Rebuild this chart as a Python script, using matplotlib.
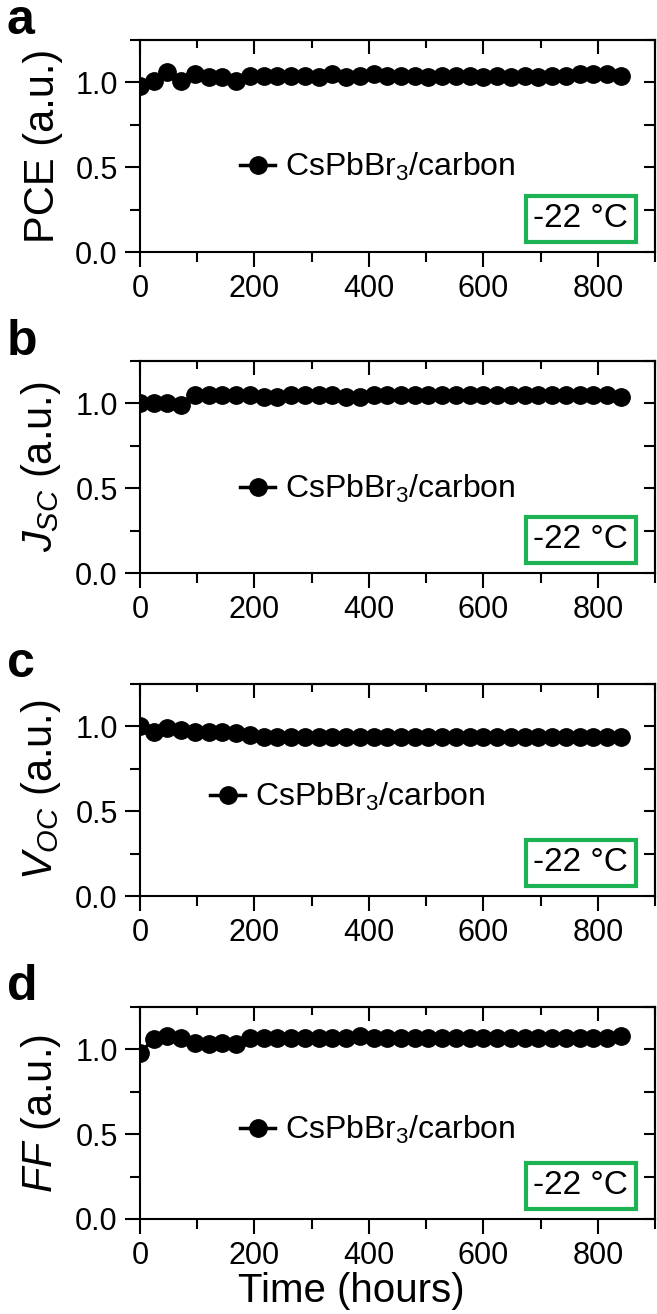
import numpy as np
import matplotlib
matplotlib.use('Agg')
import matplotlib.pyplot as plt
from matplotlib.ticker import MultipleLocator

plt.rcParams['font.family'] = ['Liberation Sans', 'DejaVu Sans']
plt.rcParams['mathtext.fontset'] = 'custom'
plt.rcParams['mathtext.rm'] = 'Liberation Sans'
plt.rcParams['mathtext.it'] = 'Liberation Sans:italic'
plt.rcParams['mathtext.bf'] = 'Liberation Sans:bold'

# --- data: measured every 24 h
time_h = [0, 24, 48, 72, 96, 120, 144, 168, 192, 216, 240, 264, 288, 312, 336, 360,
          384, 408, 432, 456, 480, 504, 528, 552, 576, 600, 624, 648, 672, 696, 720,
          744, 768, 792, 816, 840]

pce = [0.98, 1.01, 1.06, 1.01, 1.05, 1.03, 1.03, 1.01, 1.04, 1.04, 1.04, 1.04, 1.04,
       1.03, 1.05, 1.03, 1.04, 1.05, 1.04, 1.04, 1.04, 1.03, 1.04, 1.04, 1.04, 1.03,
       1.04, 1.03, 1.04, 1.03, 1.04, 1.04, 1.05, 1.05, 1.05, 1.04]

jsc = [1.00, 1.00, 1.00, 0.99, 1.05, 1.05, 1.05, 1.05, 1.05, 1.04, 1.04, 1.05, 1.05,
       1.05, 1.05, 1.04, 1.04, 1.05, 1.05, 1.05, 1.05, 1.05, 1.05, 1.05, 1.05, 1.05,
       1.05, 1.05, 1.05, 1.05, 1.05, 1.05, 1.05, 1.05, 1.05, 1.04]

voc = [1.00, 0.97, 0.99, 0.98, 0.97, 0.97, 0.97, 0.96, 0.95, 0.94, 0.94, 0.94, 0.94,
       0.94, 0.94, 0.94, 0.94, 0.94, 0.94, 0.94, 0.94, 0.94, 0.94, 0.94, 0.94, 0.94,
       0.94, 0.94, 0.94, 0.94, 0.94, 0.94, 0.94, 0.94, 0.94, 0.94]

ff = [0.98, 1.06, 1.08, 1.07, 1.04, 1.03, 1.04, 1.03, 1.07, 1.07, 1.07, 1.07, 1.07,
      1.07, 1.07, 1.07, 1.08, 1.07, 1.07, 1.07, 1.07, 1.07, 1.07, 1.07, 1.07, 1.07,
      1.07, 1.07, 1.07, 1.07, 1.07, 1.07, 1.07, 1.07, 1.07, 1.08]

series = [pce, jsc, voc, ff]
ylabels = ['PCE (a.u.)', r'$J_{SC}$ (a.u.)', r'$V_{OC}$ (a.u.)', r'$FF$ (a.u.)']
letters = ['a', 'b', 'c', 'd']
legend_name = 'CsPbBr$_3$/carbon'
temp_text = '-22 °C'
xlabel = 'Time (hours)'

# legend anchor per panel (axes coords)
leg_pos = [(0.194, 0.40), (0.194, 0.396), (0.136, 0.467), (0.194, 0.42)]
bottoms = [0.8082, 0.5639, 0.3181, 0.0723]
letter_y = [0.984, 0.740, 0.495, 0.249]

green = '#1db354'

fig = plt.figure(figsize=(6.57, 13.14), dpi=100)

for i in range(4):
    ax = fig.add_axes([0.2131, bottoms[i], 0.784, 0.1613])
    ax.plot(time_h, series[i], '-o', color='k', ms=12.5, lw=2.5, label=legend_name)
    ax.set_xlim(0, 900)
    ax.set_ylim(0, 1.25)
    ax.xaxis.set_major_locator(MultipleLocator(200))
    ax.xaxis.set_minor_locator(MultipleLocator(100))
    ax.yaxis.set_major_locator(MultipleLocator(0.5))
    ax.yaxis.set_minor_locator(MultipleLocator(0.25))
    ax.yaxis.set_major_formatter(plt.FormatStrFormatter('%.1f'))
    ax.tick_params(which='both', direction='out', width=1.5, labelsize=22, pad=5,
                   top=False, right=False)
    ax.tick_params(which='major', length=11)
    ax.tick_params(which='minor', length=7)
    for s in ax.spines.values():
        s.set_linewidth(1.5)

    # inward ticks on top and right
    top = ax.secondary_xaxis('top')
    top.xaxis.set_major_locator(MultipleLocator(200))
    top.xaxis.set_minor_locator(MultipleLocator(100))
    top.tick_params(which='both', direction='in', width=1.5, labeltop=False)
    top.tick_params(which='major', length=10)
    top.tick_params(which='minor', length=6)
    top.spines['top'].set_linewidth(1.5)
    right = ax.secondary_yaxis('right')
    right.yaxis.set_major_locator(MultipleLocator(0.5))
    right.yaxis.set_minor_locator(MultipleLocator(0.25))
    right.tick_params(which='both', direction='in', width=1.5, labelright=False)
    right.tick_params(which='major', length=8)
    right.tick_params(which='minor', length=8)
    right.spines['right'].set_linewidth(1.5)

    ax.set_ylabel(ylabels[i], fontsize=30)
    ax.yaxis.set_label_coords(-0.15, 0.5)

    ax.legend(loc='center left', bbox_to_anchor=leg_pos[i], frameon=False, fontsize=23,
              handlelength=1.1, handletextpad=0.3, borderpad=0, borderaxespad=0,
              numpoints=1)

    ax.text(0.856, 0.156, temp_text, transform=ax.transAxes, fontsize=24,
            ha='center', va='center',
            bbox=dict(boxstyle='square,pad=0.22', fc='white', ec=green, lw=3))

    fig.text(0.010, letter_y[i], letters[i], fontsize=36, fontweight='bold',
             ha='left', va='center')

    if i == 3:
        ax.set_xlabel(xlabel, fontsize=29)
        ax.xaxis.set_label_coords(0.41, -0.25)

fig.savefig('out.png', dpi=100)
